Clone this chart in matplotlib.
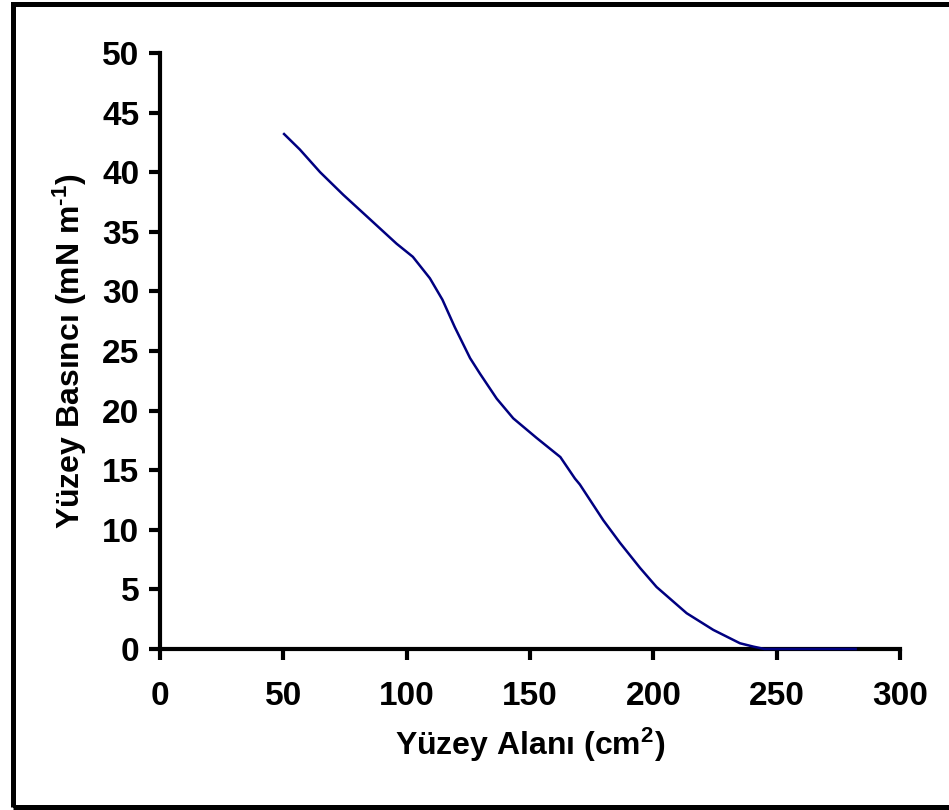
import matplotlib.pyplot as plt
from matplotlib.patches import Rectangle

plt.rcParams['font.family'] = ['Liberation Sans', 'DejaVu Sans']
plt.rcParams['font.weight'] = 'bold'
plt.rcParams['mathtext.fontset'] = 'custom'
plt.rcParams['mathtext.rm'] = 'Liberation Sans:bold'
plt.rcParams['mathtext.it'] = 'Liberation Sans:bold'
plt.rcParams['mathtext.bf'] = 'Liberation Sans:bold'
plt.rcParams['mathtext.default'] = 'rm'

# surface area (cm2) vs surface pressure (mN/m)
alan = [50.3, 56.7, 64.9, 74.3, 83.8, 95.9, 102.5, 109.4, 114.5, 119.5, 125.7,
        129.7, 136.5, 143.2, 152.7, 162.3, 168.2, 170.2, 179.7, 186.5, 194.6,
        201.3, 213.5, 224.3, 235.1, 240.5, 245, 260, 282]
basinc = [43.2, 41.9, 40.0, 38.1, 36.3, 34.0, 32.9, 31.1, 29.3, 27.0, 24.4,
          23.1, 21.0, 19.35, 17.7, 16.1, 14.3, 13.8, 10.8, 8.9, 6.8,
          5.2, 3.0, 1.6, 0.48, 0.2, 0.0, 0.0, 0.0]
xticks = [0, 50, 100, 150, 200, 250, 300]
yticks = [0, 5, 10, 15, 20, 25, 30, 35, 40, 45, 50]

fig = plt.figure(figsize=(9.49, 8.1), dpi=100)
ax = fig.add_axes([0.1686, 0.1988, 0.7798, 0.7358])
ax.plot(alan, basinc, color='#000080', lw=1.8, zorder=3, clip_on=False)

ax.set_xlim(0, 300)
ax.set_ylim(0, 50)
ax.set_xticks(xticks)
ax.set_yticks(yticks)
for s in ['top', 'right']:
    ax.spines[s].set_visible(False)
for s in ['left', 'bottom']:
    ax.spines[s].set_linewidth(3)
ax.tick_params(axis='both', direction='out', length=8, width=3, labelsize=24)
ax.tick_params(axis='y', pad=7)
ax.tick_params(axis='x', pad=15)
for lab in ax.get_xticklabels() + ax.get_yticklabels():
    lab.set_fontweight('bold')

ax.set_xlabel(r'Yüzey Alanı (cm$^{2}$)', fontsize=23, fontweight='bold')
ax.set_ylabel(r'Yüzey Basıncı (mN m$^{\text{-}1}$)', fontsize=23, fontweight='bold')
ax.xaxis.label.set_va('center')
ax.yaxis.label.set_va('center')
ax.xaxis.set_label_coords(0.5, -0.161)
ax.yaxis.set_label_coords(-0.1216, 0.5)

fig.patches.append(Rectangle((0.0137, 0.0037), 1.1, 0.9914, transform=fig.transFigure,
                             fill=False, edgecolor='black', lw=3.6))

fig.savefig('out.png', dpi=100)
